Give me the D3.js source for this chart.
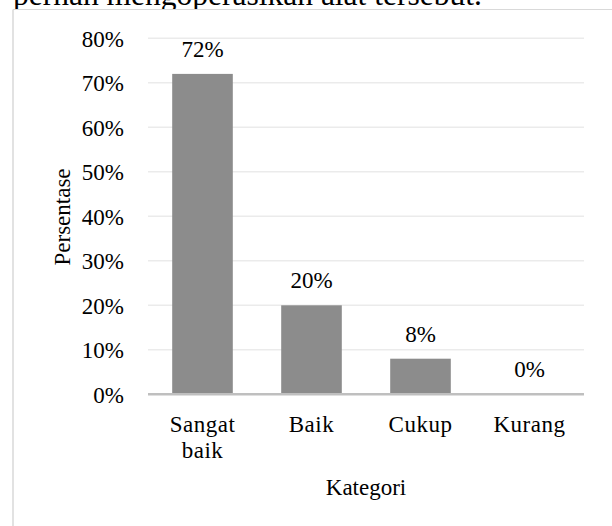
<!DOCTYPE html>
<html>
<head>
<meta charset="utf-8">
<script src="https://cdn.jsdelivr.net/npm/d3@7"></script>
<style>
  body { margin: 0; background: #fff; }
  svg text { font-family: "Liberation Serif", "Times New Roman", serif; fill: #000; }
</style>
</head>
<body>
<svg id="chart" width="612" height="526"></svg>
<script>
// Data
const categories = ["Sangat baik", "Baik", "Cukup", "Kurang"];
const values = [0.72, 0.20, 0.08, 0];
const yTicks = [0, 0.1, 0.2, 0.3, 0.4, 0.5, 0.6, 0.7, 0.8];

const svg = d3.select("svg#chart");
const fontSize = 23;

// Plot area
const plotLeft = 148, plotRight = 584, plotTop = 38.3, plotBottom = 394.3;

// Text above the chart (cut off at the top)
svg.append("text")
    .attr("x", 13)
    .attr("y", 5)
    .attr("font-size", 31.5)
    .text("pernah mengoperasikan alat tersebut.");

// Chart frame
svg.append("rect")
    .attr("x", 13).attr("y", 9.5)
    .attr("width", 612).attr("height", 526)
    .attr("fill", "#fff");
svg.append("line")
    .attr("x1", 13).attr("x2", 612)
    .attr("y1", 9.5).attr("y2", 9.5)
    .attr("stroke", "#d9d9d9").attr("stroke-width", 1);
svg.append("line")
    .attr("x1", 13).attr("x2", 13)
    .attr("y1", 9.5).attr("y2", 526)
    .attr("stroke", "#d9d9d9").attr("stroke-width", 1.5);

// Scales
const x = d3.scaleBand()
    .domain(categories)
    .range([plotLeft, plotRight])
    .paddingInner(0.444)
    .paddingOuter(0.222);

const y = d3.scaleLinear()
    .domain([0, 0.8])
    .range([plotBottom, plotTop]);

// Gridlines
svg.selectAll("line.grid")
    .data(yTicks.slice(1))
    .enter()
    .append("line")
    .attr("class", "grid")
    .attr("x1", plotLeft).attr("x2", plotRight)
    .attr("y1", d => y(d)).attr("y2", d => y(d))
    .attr("stroke", "#ebebeb").attr("stroke-width", 1.5);

// Y axis labels
const yAxis = svg.append("g")
    .attr("transform", "translate(" + (plotLeft - 4) + ",0)")
    .call(d3.axisLeft(y).tickValues(yTicks).tickFormat(d3.format(".0%")).tickSize(0).tickPadding(20));
yAxis.select(".domain").remove();
yAxis.selectAll("text")
    .attr("font-size", fontSize)
    .attr("font-family", "Liberation Serif, serif")
    .attr("fill", "#000")
    .attr("dy", "0.35em");

// Bars
svg.selectAll("rect.bar")
    .data(values)
    .enter()
    .append("rect")
    .attr("class", "bar")
    .attr("x", (d, i) => x(categories[i]))
    .attr("y", d => y(d))
    .attr("width", x.bandwidth())
    .attr("height", d => plotBottom - y(d))
    .attr("fill", "#8c8c8c");

// Bar value labels
svg.selectAll("text.value")
    .data(values)
    .enter()
    .append("text")
    .attr("class", "value")
    .attr("x", (d, i) => x(categories[i]) + x.bandwidth() / 2)
    .attr("y", d => y(d) - 17)
    .attr("text-anchor", "middle")
    .attr("font-size", fontSize)
    .text(d => Math.round(d * 100) + "%");

// X axis line
svg.append("line")
    .attr("x1", plotLeft).attr("x2", plotRight)
    .attr("y1", plotBottom).attr("y2", plotBottom)
    .attr("stroke", "#bfbfbf").attr("stroke-width", 2.5);

// Category labels
const catLabels = svg.selectAll("text.cat")
    .data(categories)
    .enter()
    .append("text")
    .attr("class", "cat")
    .attr("text-anchor", "middle")
    .attr("font-size", fontSize)
    .attr("letter-spacing", 0.5);
catLabels.selectAll("tspan")
    .data(d => d.split(" ").map(w => ({ w: w, c: d })))
    .enter()
    .append("tspan")
    .attr("x", d => x(d.c) + x.bandwidth() / 2)
    .attr("y", (d, i) => 432 + i * 26)
    .text(d => d.w);

// Axis titles
svg.append("text")
    .attr("x", (plotLeft + plotRight) / 2)
    .attr("y", 495)
    .attr("text-anchor", "middle")
    .attr("font-size", fontSize)
    .text("Kategori");

svg.append("text")
    .attr("transform", "translate(70,217) rotate(-90)")
    .attr("text-anchor", "middle")
    .attr("font-size", fontSize)
    .text("Persentase");
</script>
</body>
</html>
